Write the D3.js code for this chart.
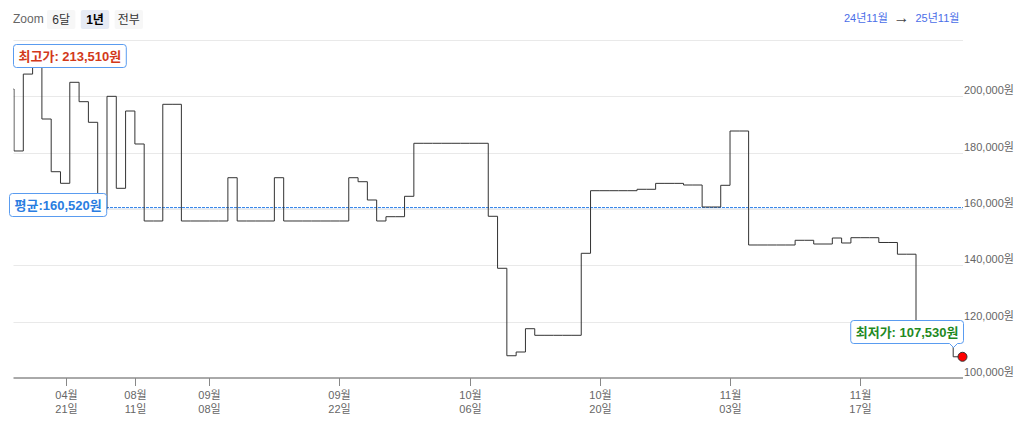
<!DOCTYPE html>
<html><head><meta charset="utf-8">
<script src="https://cdn.jsdelivr.net/npm/d3@7"></script>
<style>
body{margin:0;background:#fff;}
svg{display:block;font-family:"Liberation Sans", Arial, "Noto Sans CJK KR", sans-serif;}
</style></head><body>
<svg id="chart" width="1024" height="425"></svg>
<script>
// ---- data ----
const earlyDates = ["2024-12-16","2025-01-06","2025-01-20","2025-02-10","2025-03-03","2025-03-24",
  "2025-04-14","2025-04-26","2025-05-12","2025-05-30","2025-06-16","2025-07-01","2025-07-14",
  "2025-07-28","2025-08-11","2025-08-15","2025-08-19","2025-08-22","2025-08-26","2025-08-29",
  "2025-09-02","2025-09-05"];
const dailyStart = "2025-09-08";
const dailyEnd = "2025-11-28";
const prices = [
  202600, 180600, 207900, 213510, 191950, 173240, 169120, 204980, 198100, 190780,
  160000, 200000, 167350, 194790, 183080, 155740, 155740, 197170, 197170, 155740,
  155740, 155740, 155740, 155740, 171110, 155740, 155740, 155740, 155740, 171110,
  155740, 155740, 155740, 155740, 155740, 155740, 155740, 171110, 169690, 163200,
  155740, 157270, 157270, 164510, 183330, 183330, 183330, 183330, 183330, 183330,
  183330, 183330, 157410, 138950, 107900, 109230, 117500, 115160, 115160, 115160,
  115160, 115160, 144270, 166500, 166500, 166500, 166500, 166500, 167000, 167000,
  169100, 169100, 169100, 168520, 168520, 160710, 160710, 168410, 187690, 187690,
  147220, 147220, 147220, 147220, 147220, 148890, 148890, 147570, 147570, 149700,
  147930, 149810, 149810, 149810, 148110, 148110, 143950, 143950, 117000, 117000,
  117000, 117000, 107530, 107530
];
const tickDates = ["2025-04-21","2025-08-11","2025-09-08","2025-09-22","2025-10-06","2025-10-20","2025-11-03","2025-11-17"];
const yTicks = [100000,120000,140000,160000,180000,200000,220000];
const yLabelTicks = [100000,120000,140000,160000,180000,200000];
const maxPrice = 213510, minPrice = 107530, avgPrice = 160520;
const zoomButtons = ["6달","1년","전부"];
const selectedZoom = "1년";
const rangeFrom = "24년11월", rangeTo = "25년11월";

// ---- build ----
const parse = d3.utcParse("%Y-%m-%d");
const dates = earlyDates.map(parse).concat(
  d3.utcDay.range(parse(dailyStart), d3.utcDay.offset(parse(dailyEnd), 1)));

const svg = d3.select("#chart");
const left = 13.5, right = 963;
const x = d3.scaleLinear().domain([1, dates.length - 1]).range([14, 962.5]);
const y = d3.scaleLinear().domain([100000, 220000]).range([378, 40]);

function ordinalPos(d) {
  for (let i = 0; i < dates.length - 1; i++) {
    if (d >= dates[i] && d < dates[i+1]) return i + (d - dates[i]) / (dates[i+1] - dates[i]);
  }
  return dates.length - 1;
}

// top controls
svg.append("text").attr("x", 13).attr("y", 23).attr("fill", "#666").style("font-size", "12px").text("Zoom");
const btnX = d3.scaleBand().domain(zoomButtons).range([47, 143]).paddingInner(0.16);
const btn = svg.selectAll("g.btn").data(zoomButtons).join("g").attr("class", "btn");
btn.append("rect").attr("x", d => btnX(d)).attr("y", 10).attr("width", btnX.bandwidth()).attr("height", 19)
  .attr("rx", 2).attr("fill", d => d === selectedZoom ? "#e6ebf5" : "#f7f7f7");
btn.append("text").attr("x", d => btnX(d) + btnX.bandwidth() / 2).attr("y", 23.5).attr("text-anchor", "middle")
  .attr("fill", d => d === selectedZoom ? "#000" : "#333").style("font-size", "12px")
  .style("font-weight", d => d === selectedZoom ? "bold" : "normal").text(d => d);

svg.append("text").attr("x", 844).attr("y", 22).attr("fill", "#4a6ee8").style("font-size", "11px").text(rangeFrom);
svg.append("text").attr("x", 901.5).attr("y", 22.5).attr("text-anchor", "middle").attr("fill", "#444").style("font-size", "16px").text("→");
svg.append("text").attr("x", 915.5).attr("y", 22).attr("fill", "#4a6ee8").style("font-size", "11px").text(rangeTo);

// grid
svg.selectAll("line.grid").data(yTicks.filter(v => v > 100000)).join("line").attr("class", "grid")
  .attr("x1", left).attr("x2", right).attr("y1", d => Math.round(y(d)) + 0.5).attr("y2", d => Math.round(y(d)) + 0.5)
  .attr("stroke", "#e9e9e9");
svg.selectAll("text.ylab").data(yLabelTicks).join("text").attr("class", "ylab")
  .attr("x", 964).attr("y", d => y(d) - 2).attr("fill", "#666").style("font-size", "11px")
  .text(d => d3.format(",")(d) + "원");

// avg line
const avgY = Math.floor(y(avgPrice)) + 0.5;
svg.append("line").attr("x1", 106).attr("x2", right).attr("y1", avgY + 1).attr("y2", avgY + 1)
  .attr("stroke", "#e3edfa").attr("stroke-width", 1);
svg.append("line").attr("x1", 106).attr("x2", right).attr("y1", avgY).attr("y2", avgY)
  .attr("stroke", "#3b88e8").attr("stroke-width", 1).attr("stroke-dasharray", "3,1");

// clip
svg.append("clipPath").attr("id", "clip").append("rect").attr("x", left).attr("y", 30).attr("width", right - left + 2).attr("height", 360);

const line = d3.line().x((d, i) => x(i)).y(d => y(d)).curve(d3.curveStepAfter);
svg.append("path").attr("clip-path", "url(#clip)").attr("d", line(prices))
  .attr("fill", "none").attr("stroke", "#333").attr("stroke-width", 1);

// x axis
svg.append("line").attr("x1", left).attr("x2", right).attr("y1", 378).attr("y2", 378).attr("stroke", "#555");
const ticks = tickDates.map(parse);
const tg = svg.selectAll("g.xt").data(ticks).join("g").attr("class", "xt")
  .attr("transform", d => `translate(${Math.round(x(ordinalPos(d))) + 0.5},0)`);
tg.append("line").attr("y1", 378).attr("y2", 386).attr("stroke", "#888");
const tt = tg.append("text").attr("text-anchor", "middle").attr("fill", "#666").style("font-size", "11px");
tt.append("tspan").attr("x", 0).attr("y", 399).text(d3.utcFormat("%m월"));
tt.append("tspan").attr("x", 0).attr("y", 413).text(d3.utcFormat("%d일"));

// min dot
const minIdx = prices.lastIndexOf(minPrice);
svg.append("circle").attr("cx", x(minIdx)).attr("cy", y(minPrice)).attr("r", 4.5)
  .attr("fill", "#ff0000").attr("stroke", "#333").attr("stroke-width", 1);

// labels
function callout(text, color, boxX, boxY, align, notchX) {
  const g = svg.append("g");
  const rect = g.append("path");
  const t = g.append("text").attr("y", boxY + 16.5).attr("fill", color)
    .style("font-size", "13px").style("font-weight", "bold").text(text);
  const w = t.node().getComputedTextLength() + 10, h = 23;
  const bx = align === "end" ? boxX - w : boxX;
  t.attr("x", bx + 5);
  const r = 3;
  let p = `M${bx + r},${boxY} H${bx + w - r} Q${bx + w},${boxY} ${bx + w},${boxY + r} V${boxY + h - r} Q${bx + w},${boxY + h} ${bx + w - r},${boxY + h}`;
  if (notchX != null) p += ` H${notchX + 4} L${notchX},${boxY + h + 4} L${notchX - 4},${boxY + h}`;
  p += ` H${bx + r} Q${bx},${boxY + h} ${bx},${boxY + h - r} V${boxY + r} Q${bx},${boxY} ${bx + r},${boxY} Z`;
  rect.attr("d", p).attr("fill", "#fff").attr("stroke", "#5a9cf0").attr("stroke-width", 1);
  return g;
}
callout("최고가: " + d3.format(",")(maxPrice) + "원", "#d2391a", 13.5, Math.round(y(maxPrice)) - 13.5, "start");
callout("평균:" + d3.format(",")(avgPrice) + "원", "#2a7de1", 9.5, Math.round(y(avgPrice)) - 14.5, "start");
callout("최저가: " + d3.format(",")(minPrice) + "원", "#1f8a1f", 963.5, Math.round(y(minPrice)) - 36.5, "end", Math.round(x(minIdx - 1)) + 0.5);
</script>
</body></html>
